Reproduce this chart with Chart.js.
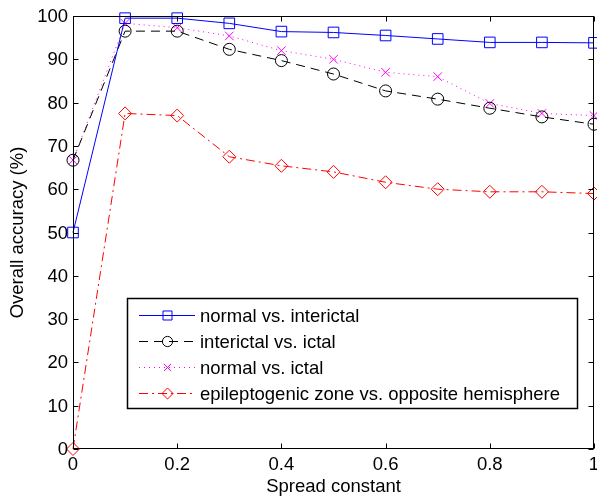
<!DOCTYPE html>
<html>
<head>
<meta charset="utf-8">
<script src="https://cdn.jsdelivr.net/npm/chart.js@4/dist/chart.umd.min.js"></script>
<style>
  html, body { margin: 0; padding: 0; background: #fff; }
</style>
</head>
<body>
<canvas id="accuracy-chart" width="597" height="498"></canvas>
<script>
const spreadConstant = [0, 0.1, 0.2, 0.3, 0.4, 0.5, 0.6, 0.7, 0.8, 0.9, 1];
const normalVsInterictal = [50, 99.5, 99.5, 98.3, 96.4, 96.2, 95.5, 94.7, 93.9, 93.9, 93.8];
const interictalVsIctal = [66.7, 96.5, 96.5, 92.3, 89.7, 86.6, 82.7, 80.8, 78.7, 76.7, 75];
const normalVsIctal = [66.7, 98.3, 97.3, 95.4, 92, 90, 87, 86, 79.8, 77.5, 77];
const zoneVsOpposite = [0, 77.5, 77, 67.5, 65.4, 64, 61.6, 60, 59.4, 59.4, 59];
const xTicks = [0, 0.2, 0.4, 0.6, 0.8, 1];
const yTicks = [0, 10, 20, 30, 40, 50, 60, 70, 80, 90, 100];
const seriesLabels = [
  'normal vs. interictal',
  'interictal vs. ictal',
  'normal vs. ictal',
  'epileptogenic zone vs. opposite hemisphere'
];

const FONT = "'Liberation Sans', Arial, Helvetica, sans-serif";
const FONT_SIZE = 18.5;

function toPoints(values) {
  return spreadConstant.map((x, i) => ({ x: x, y: values[i] }));
}

function series(label, values, color, dash, style, radius) {
  return {
    label: label,
    data: toPoints(values),
    borderColor: color,
    borderWidth: 1,
    borderDash: dash,
    pointStyle: style,
    pointRadius: radius,
    pointBorderColor: color,
    pointBackgroundColor: 'rgba(0,0,0,0)',
    pointBorderWidth: 1,
    tension: 0,
    fill: false,
    clip: false
  };
}

// MATLAB-ish box, inward ticks on all sides, and a boxed legend
const matlabAxes = {
  id: 'matlabAxes',
  afterDraw(chart) {
    const ctx = chart.ctx;
    const area = chart.chartArea;
    const xs = chart.scales.x;
    const ys = chart.scales.y;

    ctx.save();
    ctx.strokeStyle = '#000';
    ctx.lineWidth = 1;
    ctx.setLineDash([]);
    const l = Math.round(area.left) + 0.5;
    const r = Math.round(area.right) - 0.5;
    const t = Math.round(area.top) + 0.5;
    const b = Math.round(area.bottom) - 0.5;
    ctx.strokeRect(l, t, r - l, b - t);

    ctx.fillStyle = '#000';
    ctx.font = FONT_SIZE + 'px ' + FONT;

    ctx.beginPath();
    xTicks.forEach(v => {
      const px = Math.round(xs.getPixelForValue(v)) + 0.5;
      ctx.moveTo(px, b); ctx.lineTo(px, b - 5);
      ctx.moveTo(px, t); ctx.lineTo(px, t + 5);
    });
    yTicks.forEach(v => {
      const py = Math.round(ys.getPixelForValue(v)) + 0.5;
      ctx.moveTo(l, py); ctx.lineTo(l + 5, py);
      ctx.moveTo(r, py); ctx.lineTo(r - 5, py);
    });
    ctx.stroke();

    ctx.textAlign = 'center';
    ctx.textBaseline = 'middle';
    xTicks.forEach(v => {
      ctx.fillText(String(v), xs.getPixelForValue(v), area.bottom + 16);
    });
    ctx.textAlign = 'right';
    yTicks.forEach(v => {
      ctx.fillText(String(v), area.left - 5, ys.getPixelForValue(v) + 1);
    });

    // legend
    const box = { x: 127, y: 298, w: 450, h: 110 };
    ctx.fillStyle = '#fff';
    ctx.fillRect(box.x, box.y, box.w, box.h);
    ctx.strokeStyle = '#000';
    ctx.lineWidth = 1.5;
    ctx.strokeRect(box.x + 0.5, box.y + 0.5, box.w, box.h);

    chart.data.datasets.forEach((ds, i) => {
      const y = Math.round(315 + i * 26) + 0.5;
      ctx.save();
      ctx.strokeStyle = ds.borderColor;
      ctx.lineWidth = 1;
      ctx.setLineDash(ds.borderDash || []);
      ctx.beginPath();
      ctx.moveTo(139, y);
      ctx.lineTo(195, y);
      ctx.stroke();
      ctx.setLineDash([]);
      ctx.strokeStyle = ds.pointBorderColor;
      ctx.fillStyle = 'rgba(0,0,0,0)';
      Chart.helpers.drawPoint(ctx, {
        pointStyle: ds.pointStyle,
        radius: ds.pointRadius * 0.85,
        rotation: 0,
        borderWidth: 1
      }, 167.5, y);
      ctx.restore();

      ctx.fillStyle = '#000';
      ctx.textAlign = 'left';
      ctx.textBaseline = 'middle';
      ctx.font = FONT_SIZE + 'px ' + FONT;
      ctx.fillText(ds.label, 200, y + 1);
    });
    ctx.restore();
  }
};

const ctx = document.getElementById('accuracy-chart').getContext('2d');

window.chart = new Chart(ctx, {
  type: 'line',
  data: {
    datasets: [
      series(seriesLabels[0], normalVsInterictal, '#0000ff', [], 'rect', 7.5),
      series(seriesLabels[1], interictalVsIctal, '#000000', [9, 6], 'circle', 6),
      series(seriesLabels[2], normalVsIctal, '#ff00ff', [1, 4], 'crossRot', 6),
      series(seriesLabels[3], zoneVsOpposite, '#ff0000', [9, 4, 2, 4], 'rectRot', 6.5)
    ]
  },
  options: {
    responsive: false,
    animation: false,
    devicePixelRatio: 1,
    layout: {
      autoPadding: false,
      padding: { top: 16, right: 3, left: 0, bottom: 0 }
    },
    plugins: {
      legend: { display: false },
      tooltip: { enabled: false }
    },
    scales: {
      x: {
        type: 'linear',
        min: 0,
        max: 1,
        ticks: { display: false, stepSize: 0.2 },
        grid: { display: false },
        border: { display: false },
        title: {
          display: true,
          text: 'Spread constant',
          color: '#000',
          font: { family: FONT, size: FONT_SIZE },
          padding: 0
        },
        afterFit(scale) {
          scale.height = 49;
          scale.paddingLeft = 0;
          scale.paddingRight = 0;
        }
      },
      y: {
        type: 'linear',
        min: 0,
        max: 100,
        ticks: { display: false, stepSize: 10 },
        grid: { display: false },
        border: { display: false },
        title: {
          display: true,
          text: 'Overall accuracy (%)',
          color: '#000',
          font: { family: FONT, size: FONT_SIZE },
          padding: { top: 7, bottom: 0 }
        },
        afterFit(scale) {
          scale.width = 73;
          scale.paddingTop = 0;
          scale.paddingBottom = 0;
        }
      }
    }
  },
  plugins: [matlabAxes]
});
</script>
</body>
</html>
